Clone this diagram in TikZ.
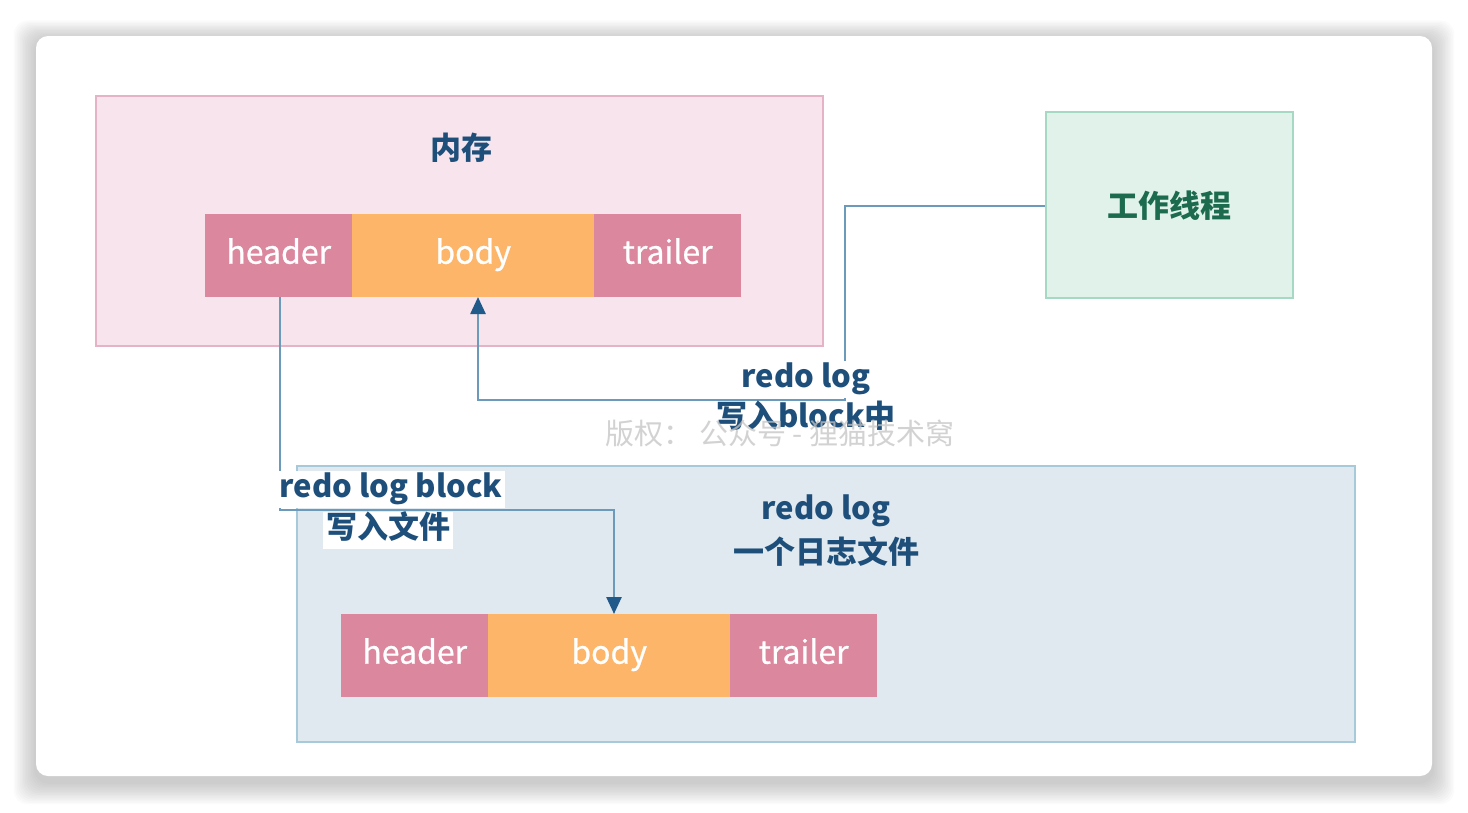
\documentclass[tikz,border=0pt]{standalone}
\usepackage{fontspec}
\setmainfont{Noto Sans CJK SC}
\newfontfamily\medfont{Noto Sans CJK SC}[FakeBold=0.7]
\usetikzlibrary{arrows.meta}
\definecolor{pinkbg}{HTML}{F7E4EC}
\definecolor{pinkbd}{HTML}{E6B3C6}
\definecolor{greenbg}{HTML}{E1F2EA}
\definecolor{greenbd}{HTML}{A6D9C4}
\definecolor{bluebg}{HTML}{E1E9F0}
\definecolor{bluebd}{HTML}{A7CADB}
\definecolor{hdr}{HTML}{DB879E}
\definecolor{bdy}{HTML}{FDB56A}
\definecolor{txtblue}{HTML}{1E4F7A}
\definecolor{txtgreen}{HTML}{1C6B4F}
\definecolor{linec}{HTML}{6C9ABA}
\definecolor{arrowc}{HTML}{1F5A8A}
\definecolor{wmark}{HTML}{C4C4C4}
\begin{document}
\begin{tikzpicture}[x=1pt,y=-1pt,
  region/.style={line width=2pt, inner sep=0pt, anchor=north west},
  blk/.style={inner sep=0pt, minimum height=83pt, anchor=north west, text=white,
    text height=23pt, text depth=7pt,
    font=\medfont\fontsize{32}{38}\selectfont},
  hblk/.style={blk, fill=hdr, minimum width=147pt},
  bblk/.style={blk, fill=bdy, minimum width=242pt},
  title/.style={font=\fontsize{31}{36}\selectfont\bfseries, text=txtblue},
  lbl/.style={fill=white, inner sep=3pt, text height=24pt, text depth=7pt,
    font=\fontsize{31}{36}\selectfont\bfseries, text=txtblue},
  conn/.style={draw=linec, line width=2.5pt},
  tip/.style={-{Triangle[length=17pt,width=15pt,color=arrowc]}}
]
\useasboundingbox (0,0) rectangle (1468,812);
% shadow
\foreach \i in {1,...,14}
  \fill[black, opacity=0.016, rounded corners=14pt]
    ({36-1.6*\i},{40-1.4*\i}) rectangle ({1432+1.6*\i},{782+1.6*\i});
% card
\fill[white, rounded corners=12pt] (36,36) rectangle (1432,776);

% regions
\node[region, draw=pinkbd, fill=pinkbg, minimum width=727pt, minimum height=250pt] (mem) at (95,95) {};
\node[title] (memt) at (461,148) {内存};
\node[region, draw=greenbd, fill=greenbg, minimum width=247pt, minimum height=186pt] (wt) at (1045,111) {};
\node[title, text=txtgreen] (wtt) at (1169,206) {工作线程};
\node[region, draw=bluebd, fill=bluebg, minimum width=1058pt, minimum height=276pt] (rl) at (296,465) {};
\node[title] (rlt1) at (826,511) {redo log};
\node[title] (rlt2) at (826,551) {一个日志文件};

% top block
\node[hblk] (h1) at (205,214) {header};
\node[bblk] (b1) at (352,214) {body};
\node[hblk] (t1) at (594,214) {trailer};
% bottom block
\node[hblk] (h2) at (341,614) {header};
\node[bblk] (b2) at (488,614) {body};
\node[hblk] (t2) at (730,614) {trailer};

% connectors
\coordinate (k1) at (845,400);
\coordinate (k1e) at (478,297);
\draw[conn, tip] (wt.west |- 0,206) -| (k1) -| (k1e);
\coordinate (k2) at (614,510);
\coordinate (k2e) at (614,614);
\draw[conn, tip] (280,297) |- (k2) -- (k2e);

% labels
\node[lbl] (l1a) at (806,379) {redo log};
\node[lbl] (l1b) at (806,419) {写入block中};
\node[lbl] (l2a) at (391,489) {redo log block};
\node[lbl] (l2b) at (388,530) {写入文件};

% watermark
\node[text=wmark, opacity=0.75, font=\fontsize{29}{34}\selectfont] (wm) at (780,433) {版权：\ 公众号 - 狸猫技术窝};
\end{tikzpicture}
\end{document}
